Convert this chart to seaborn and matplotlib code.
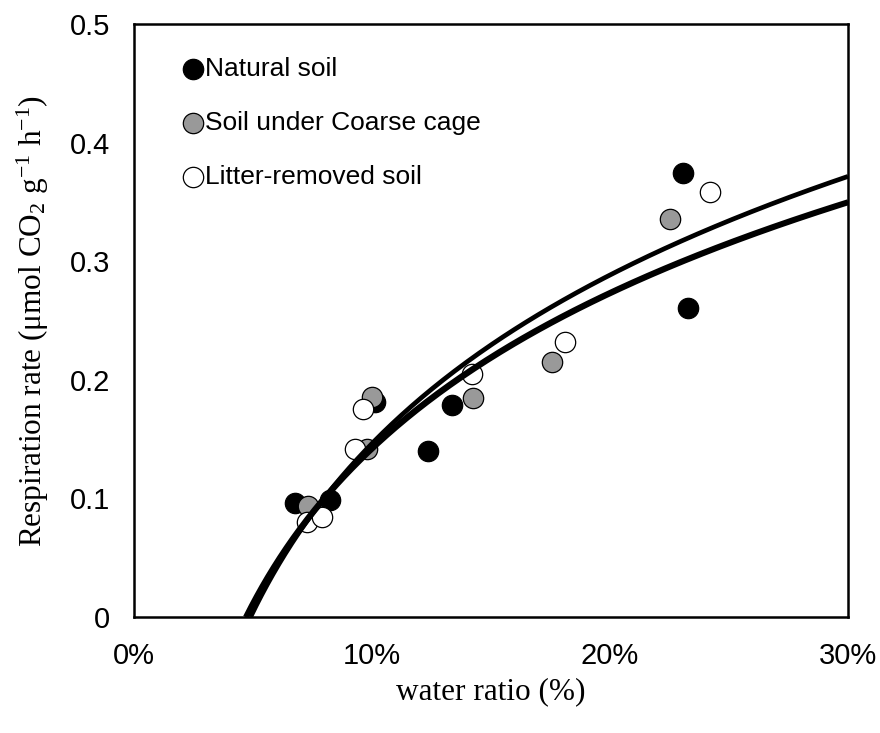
import numpy as np
import pandas as pd
import matplotlib
matplotlib.use("Agg")
import matplotlib.pyplot as plt
import seaborn as sns

# ---- data ----
series_names = ["Natural soil", "Soil under Coarse cage", "Litter-removed soil"]

natural_x = [0.0677, 0.0824, 0.1013, 0.1234, 0.1335, 0.2305, 0.2329]
natural_y = [0.0959, 0.0987, 0.1813, 0.1402, 0.1788, 0.3747, 0.2603]

coarse_x = [0.0733, 0.0979, 0.1000, 0.1426, 0.1755, 0.2252]
coarse_y = [0.0935, 0.1417, 0.1855, 0.1844, 0.2153, 0.3353]

litter_x = [0.0726, 0.0789, 0.0929, 0.0962, 0.1419, 0.1810, 0.2420]
litter_y = [0.0804, 0.0846, 0.1417, 0.1754, 0.2049, 0.2321, 0.3586]

# logarithmic trendlines y = a*ln(x) + b
trend_a = [0.1885, 0.1892, 0.2050]
trend_b = [0.5772, 0.5769, 0.6183]

x_ticks = [0.0, 0.1, 0.2, 0.3]
x_tick_labels = ["0%", "10%", "20%", "30%"]
y_ticks = [0.0, 0.1, 0.2, 0.3, 0.4, 0.5]
y_tick_labels = ["0", "0.1", "0.2", "0.3", "0.4", "0.5"]

# ---- styling ----
sns.set_theme(style="white")
plt.rcParams["font.family"] = ["Liberation Sans", "DejaVu Sans"]
plt.rcParams["mathtext.fontset"] = "custom"
plt.rcParams["mathtext.rm"] = "Liberation Serif"
plt.rcParams["mathtext.it"] = "Liberation Serif:italic"
plt.rcParams["text.color"] = "black"
plt.rcParams["axes.labelcolor"] = "black"

df = pd.DataFrame({
    "x": natural_x + coarse_x + litter_x,
    "y": natural_y + coarse_y + litter_y,
    "series": [series_names[0]] * len(natural_x)
              + [series_names[1]] * len(coarse_x)
              + [series_names[2]] * len(litter_x),
})

fig = plt.figure(figsize=(8.8, 7.33), dpi=100)
ax = fig.add_axes([134 / 880, (733 - 617) / 733, (848 - 134) / 880, (617 - 24) / 733])

fills = {series_names[0]: "black", series_names[1]: "#999999", series_names[2]: "white"}
for name in series_names:
    sub = df[df["series"] == name]
    sns.scatterplot(data=sub, x="x", y="y", ax=ax, color=fills[name],
                    edgecolor="black", linewidth=0.9, s=215, label=name,
                    zorder=2, legend=True)

for a, b in zip(trend_a, trend_b):
    x0 = np.exp(-b / a)
    xs = np.geomspace(x0, 0.30, 300)
    ax.plot(xs, a * np.log(xs) + b, color="black", lw=3.4, zorder=3,
            solid_capstyle="butt")

ax.set_xlim(0, 0.30)
ax.set_ylim(0, 0.5)
ax.set_xticks(x_ticks)
ax.set_xticklabels(x_tick_labels)
ax.set_yticks(y_ticks)
ax.set_yticklabels(y_tick_labels)
ax.tick_params(axis="both", direction="in", length=7, width=0.8,
               color="#808080", labelsize=21, labelcolor="black")
ax.tick_params(axis="x", pad=18)
ax.tick_params(axis="y", pad=17)

for sp in ax.spines.values():
    sp.set_color("black")
    sp.set_linewidth(1.8)

ax.set_xlabel("water ratio (%)", fontsize=22.5, family="Liberation Serif", labelpad=5)
ax.set_ylabel(r"Respiration rate ($\mathrm{\mu}$mol CO$_2$ g$^{-1}$ h$^{-1}$)",
              fontsize=22.5, family="Liberation Serif", labelpad=14)

leg = ax.legend(loc="upper left", bbox_to_anchor=(0.0714, 0.944), frameon=False,
                fontsize=19, handlelength=0.6, handletextpad=0.15,
                borderpad=0, borderaxespad=0, labelspacing=1.13, markerscale=1.0)
for t in leg.get_texts():
    t.set_color("black")

fig.savefig("out.png", dpi=100)
